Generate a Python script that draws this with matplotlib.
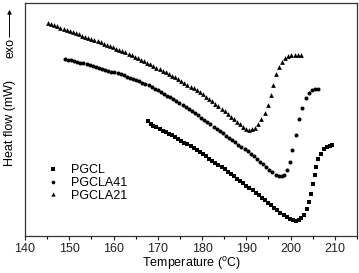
import matplotlib
matplotlib.use("Agg")
import matplotlib.pyplot as plt

plt.rcParams['font.family'] = ['Liberation Sans', 'DejaVu Sans']
plt.rcParams['mathtext.fontset'] = 'custom'
plt.rcParams['mathtext.rm'] = 'Liberation Sans'

# ---- data (y in arbitrary heat-flow units) ----
t_pgcla21 = [145.2, 145.9, 146.6, 147.3, 148.0, 148.7, 149.4, 150.1, 150.8, 151.5,
             152.2, 152.9, 153.6, 154.3, 155.0, 155.7, 156.4, 157.1, 157.8, 158.5,
             159.2, 159.9, 160.6, 161.3, 162.0, 162.7, 163.4, 164.1, 164.8, 165.5,
             166.2, 166.9, 167.6, 168.3, 169.0, 169.7, 170.4, 171.1, 171.8, 172.5,
             173.2, 173.9, 174.6, 175.3, 176.0, 176.7, 177.4, 178.1, 178.8, 179.5,
             180.2, 180.9, 181.6, 182.3, 183.0, 183.7, 184.4, 185.1, 185.8, 186.5,
             187.2, 187.9, 188.6, 189.3, 190.0, 190.7, 191.3, 191.9, 192.6, 193.4,
             194.2, 194.8, 195.5, 196.1, 196.8, 197.4, 198.1, 198.7, 199.4, 200.2,
             200.9, 201.7, 202.3]
h_pgcla21 = [213.0, 211.9, 210.7, 209.6, 208.4, 207.3, 206.1, 205.0, 203.8, 202.7,
             201.6, 200.4, 199.3, 198.2, 197.0, 195.9, 194.8, 193.6, 192.4, 191.2,
             190.0, 188.8, 187.5, 186.3, 185.1, 183.8, 182.3, 180.8, 179.3, 177.8,
             176.3, 174.8, 173.3, 171.8, 170.1, 168.5, 166.8, 165.2, 163.6, 161.9,
             160.2, 158.6, 157.0, 155.2, 153.3, 151.4, 149.5, 147.6, 145.8, 144.0,
             141.7, 139.3, 137.0, 134.7, 132.3, 130.0, 127.5, 124.8, 122.1, 119.5,
             116.8, 114.0, 111.6, 109.3, 107.4, 106.2, 106.6, 108.3, 111.7, 116.7,
             123.3, 131.0, 141.0, 151.0, 161.7, 169.3, 174.0, 177.7, 180.0, 180.7,
             180.7, 180.7, 180.7]

t_pgcla41 = [149.0, 149.7, 150.4, 151.1, 151.8, 152.5, 153.2, 153.9, 154.6, 155.3,
             156.0, 156.7, 157.4, 158.1, 158.8, 159.5, 160.2, 160.9, 161.6, 162.3,
             163.0, 163.7, 164.4, 165.1, 165.8, 166.5, 167.2, 167.9, 168.6, 169.3,
             170.0, 170.7, 171.4, 172.1, 172.8, 173.5, 174.2, 174.9, 175.6, 176.3,
             177.0, 177.7, 178.4, 179.1, 179.8, 180.5, 181.2, 181.9, 182.6, 183.3,
             184.0, 184.7, 185.4, 186.1, 186.8, 187.5, 188.2, 188.9, 189.6, 190.3,
             191.0, 191.7, 192.4, 193.1, 193.8, 194.5, 195.2, 195.9, 196.6, 197.3,
             198.0, 198.6, 199.2, 199.8, 200.4, 201.2, 201.9, 202.6, 203.4, 204.1,
             204.9, 205.6, 206.2]
h_pgcla41 = [177.0, 176.3, 175.6, 174.8, 174.0, 173.3, 172.6, 171.8, 171.1, 170.2,
             169.3, 168.3, 167.4, 166.4, 165.5, 164.5, 163.6, 162.6, 161.7, 160.7,
             159.5, 158.3, 157.1, 155.9, 154.7, 153.3, 152.0, 150.6, 149.1, 147.4,
             145.6, 143.8, 142.1, 140.3, 138.6, 136.8, 135.1, 133.3, 131.3, 129.2,
             127.1, 125.0, 122.9, 120.8, 118.5, 116.3, 114.0, 111.8, 109.5, 107.3,
             105.0, 102.8, 100.5, 98.3, 96.0, 93.8, 91.5, 89.3, 87.0, 84.8,
             82.4, 79.7, 77.1, 74.4, 71.7, 69.0, 66.3, 63.6, 61.3, 59.8,
             59.6, 61.5, 66.0, 74.0, 86.0, 101.3, 116.7, 128.3, 137.7, 142.7,
             146.0, 147.0, 147.0]

t_pgcl = [167.8, 168.4, 169.0, 169.7, 170.4, 171.1, 171.8, 172.5, 173.2, 173.9,
          174.6, 175.3, 176.0, 176.7, 177.4, 178.1, 178.8, 179.5, 180.2, 180.9,
          181.6, 182.3, 183.0, 183.7, 184.4, 185.1, 185.8, 186.5, 187.2, 187.9,
          188.6, 189.3, 190.0, 190.7, 191.4, 192.1, 192.8, 193.5, 194.2, 194.9,
          195.6, 196.3, 197.0, 197.7, 198.4, 199.1, 199.8, 200.5, 201.2, 201.8,
          202.4, 203.0, 203.6, 204.2, 204.7, 205.1, 205.5, 205.8, 206.2, 206.8,
          207.5, 208.2, 208.8, 209.4]
h_pgcl = [115.0, 112.0, 110.3, 108.7, 107.1, 105.5, 103.9, 102.2, 100.6, 99.0,
          97.4, 95.4, 93.5, 91.6, 89.7, 87.8, 85.9, 84.0, 81.9, 79.7,
          77.5, 75.4, 73.2, 71.0, 68.9, 66.7, 64.4, 62.1, 59.7, 57.4,
          55.1, 52.8, 50.5, 48.1, 45.6, 43.2, 40.7, 38.3, 35.8, 33.4,
          30.8, 28.3, 25.8, 23.3, 21.0, 18.8, 17.0, 15.8, 15.3, 16.0,
          18.3, 21.5, 26.7, 34.3, 42.0, 52.0, 61.0, 69.3, 76.7, 82.0,
          86.7, 89.3, 90.5, 91.0]

x_ticks = [140, 150, 160, 170, 180, 190, 200, 210]
series_labels = ['PGCL', 'PGCLA41', 'PGCLA21']

# ---- figure ----
W, H = 359, 273
fig = plt.figure(figsize=(W / 100, H / 100), dpi=100)
ax = fig.add_axes([25 / W, 1 - 236 / H, 332 / W, 233 / H])

ax.plot(t_pgcl, h_pgcl, 's', color='black', ms=2.5, mew=0, label=series_labels[0])
ax.plot(t_pgcla41, h_pgcla41, 'o', color='black', ms=2.9, mew=0, label=series_labels[1])
ax.plot(t_pgcla21, h_pgcla21, '^', color='black', ms=3.4, mew=0, label=series_labels[2])

ax.set_xlim(140, 215)
ax.set_ylim(0, 233)
ax.set_xticks(x_ticks)
ax.set_xticks([145, 155, 165, 175, 185, 195, 205, 215], minor=True)
ax.set_yticks([])
ax.tick_params(axis='x', which='major', direction='out', length=3, width=0.8,
               labelsize=9, pad=2, colors='#222222')
ax.tick_params(axis='x', which='minor', direction='out', length=2, width=0.8)
for s in ax.spines.values():
    s.set_linewidth(0.9)
    s.set_color('#333333')

ax.set_xlabel(r'Temperature ($^{\mathrm{o}}$C)', fontsize=9, labelpad=0)

leg = ax.legend(loc='upper left', bbox_to_anchor=(0.04, 0.345), frameon=False,
                fontsize=9, handlelength=1.0, handletextpad=0.9, labelspacing=0.05,
                borderpad=0.2, markerscale=0.9)

fig.text(10 / W, 1 - 123 / H, 'Heat flow (mW)', rotation=90, ha='center', va='center', fontsize=9)
fig.text(10 / W, 1 - 48 / H, 'exo', rotation=90, ha='center', va='center', fontsize=9)
fig.add_artist(matplotlib.patches.FancyArrowPatch(
    (9.5 / W, 1 - 40 / H), (9.5 / W, 1 - 7 / H), transform=fig.transFigure,
    arrowstyle='-|>', mutation_scale=6, lw=0.7, color='black'))

fig.savefig('out.png', dpi=100)
